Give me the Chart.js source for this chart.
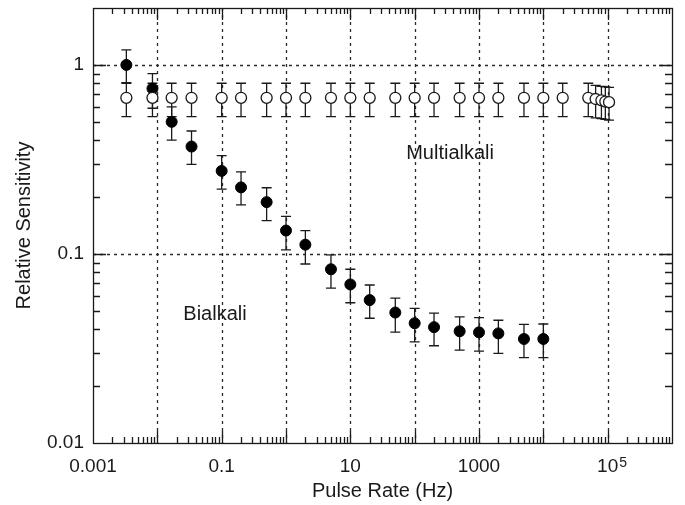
<!DOCTYPE html>
<html>
<head>
<meta charset="utf-8">
<script src="https://cdn.jsdelivr.net/npm/chart.js@4.4.0/dist/chart.umd.min.js"></script>
<style>
  html, body { margin: 0; padding: 0; background: #fff; }
</style>
</head>
<body>
<canvas id="c" width="685" height="505"></canvas>
<script>
// Bialkali (filled points)
const pulseRate = [0.0033, 0.0084, 0.0167, 0.034, 0.1, 0.2, 0.5, 1, 2, 5, 10, 20, 50, 100, 200, 500, 1000, 2000, 5000, 10000];
const bialkali   = [1.0, 0.75, 0.50, 0.37, 0.275, 0.225, 0.188, 0.133, 0.112, 0.083, 0.069, 0.057, 0.049, 0.043, 0.041, 0.039, 0.0385, 0.038, 0.0355, 0.0355];
const bialkaliHi = [1.20, 0.90, 0.60, 0.447, 0.331, 0.272, 0.224, 0.158, 0.133, 0.099, 0.083, 0.0685, 0.0584, 0.0515, 0.0486, 0.0465, 0.046, 0.0446, 0.0424, 0.0426];
const bialkaliLo = [0.806, 0.59, 0.40, 0.298, 0.22, 0.182, 0.150, 0.105, 0.0885, 0.066, 0.0552, 0.0457, 0.0386, 0.0343, 0.0327, 0.031, 0.0306, 0.0298, 0.0283, 0.0283];

// Multialkali (open points)
const multiRate = [0.0033, 0.0084, 0.0167, 0.034, 0.1, 0.2, 0.5, 1, 2, 5, 10, 20, 50, 100, 200, 500, 1000, 2000, 5000, 10000, 20000, 50000, 65000, 80000, 92000, 105000];
const multialkali = [0.67, 0.67, 0.67, 0.67, 0.67, 0.67, 0.67, 0.67, 0.67, 0.67, 0.67, 0.67, 0.67, 0.67, 0.67, 0.67, 0.67, 0.67, 0.67, 0.67, 0.67, 0.67, 0.66, 0.65, 0.64, 0.635];
const multiHi = [0.80, 0.80, 0.80, 0.80, 0.80, 0.80, 0.80, 0.80, 0.80, 0.80, 0.80, 0.80, 0.80, 0.80, 0.80, 0.80, 0.80, 0.80, 0.80, 0.80, 0.80, 0.80, 0.78, 0.77, 0.765, 0.76];
const multiLo = [0.533, 0.533, 0.533, 0.533, 0.533, 0.533, 0.533, 0.533, 0.533, 0.533, 0.533, 0.533, 0.533, 0.533, 0.533, 0.533, 0.533, 0.533, 0.533, 0.533, 0.533, 0.533, 0.525, 0.52, 0.515, 0.51];

// axes
const xTicks = [0.001, 0.1, 10, 1000, 100000];
const xTickLabels = ['0.001', '0.1', '10', '1000', '10'];
const xTickSup = ['', '', '', '', '5'];
const yTicks = [0.01, 0.1, 1];
const yTickLabels = ['0.01', '0.1', '1'];
const xGrid = [0.01, 0.1, 1, 10, 100, 1000, 10000, 100000];
const yGrid = [0.1, 1];

// text labels in the plot
const notes = [
  { text: 'Multialkali', x: 355, y: 0.338 },
  { text: 'Bialkali', x: 0.0787, y: 0.0476 }
];

const FONT = '"Liberation Sans", Arial, Helvetica, sans-serif';
const INK = '#1a1a1a';

function toPoints(xs, ys) {
  return xs.map((x, i) => ({ x: x, y: ys[i] }));
}

function minorValues(min, max) {
  const out = [];
  for (let d = min; d < max; d *= 10) {
    for (let m = 2; m <= 9; m++) {
      const v = d * m;
      if (v < max * 0.999) out.push(v);
    }
  }
  return out;
}

const plotDecor = {
  id: 'plotDecor',
  beforeDatasetsDraw(chart) {
    const { ctx, chartArea: a, scales: { x, y } } = chart;
    ctx.save();
    // dashed grid at decades
    ctx.strokeStyle = '#2a2a2a';
    ctx.lineWidth = 1.3;
    ctx.setLineDash([3, 4]);
    xGrid.forEach(v => {
      const px = Math.round(x.getPixelForValue(v)) + 0.5;
      ctx.beginPath(); ctx.moveTo(px, a.top); ctx.lineTo(px, a.bottom); ctx.stroke();
    });
    yGrid.forEach(v => {
      const py = Math.round(y.getPixelForValue(v)) + 0.5;
      ctx.beginPath(); ctx.moveTo(a.left, py); ctx.lineTo(a.right, py); ctx.stroke();
    });
    ctx.setLineDash([]);

    // error bars
    ctx.strokeStyle = INK;
    ctx.lineWidth = 1.3;
    const bars = (xs, hi, lo) => {
      xs.forEach((v, i) => {
        const px = x.getPixelForValue(v);
        const pt = y.getPixelForValue(hi[i]);
        const pb = y.getPixelForValue(lo[i]);
        ctx.beginPath();
        ctx.moveTo(px, pt); ctx.lineTo(px, pb);
        ctx.moveTo(px - 5, pt); ctx.lineTo(px + 5, pt);
        ctx.moveTo(px - 5, pb); ctx.lineTo(px + 5, pb);
        ctx.stroke();
      });
    };
    bars(pulseRate, bialkaliHi, bialkaliLo);
    bars(multiRate, multiHi, multiLo);
    ctx.restore();
  },
  afterDatasetsDraw(chart) {
    const { ctx, chartArea: a, scales: { x, y } } = chart;
    ctx.save();
    ctx.strokeStyle = INK;
    ctx.lineWidth = 1.3;
    // frame
    ctx.strokeRect(a.left + 0.5, a.top + 0.5, a.right - a.left, a.bottom - a.top);

    // inward ticks, bottom and top
    const tickX = (v, len) => {
      const px = Math.round(x.getPixelForValue(v)) + 0.5;
      ctx.beginPath();
      ctx.moveTo(px, a.bottom); ctx.lineTo(px, a.bottom - len);
      ctx.moveTo(px, a.top); ctx.lineTo(px, a.top + len);
      ctx.stroke();
    };
    minorValues(x.min, x.max).forEach(v => tickX(v, 6));
    xGrid.forEach(v => tickX(v, 12));

    // inward ticks, left and right
    const tickY = (v, len) => {
      const py = Math.round(y.getPixelForValue(v)) + 0.5;
      ctx.beginPath();
      ctx.moveTo(a.left, py); ctx.lineTo(a.left + len, py);
      ctx.moveTo(a.right, py); ctx.lineTo(a.right - len, py);
      ctx.stroke();
    };
    minorValues(y.min, y.max).forEach(v => tickY(v, 7));
    yGrid.forEach(v => tickY(v, 13));

    // superscript exponents on x tick labels
    ctx.fillStyle = INK;
    ctx.textBaseline = 'alphabetic';
    x.ticks.forEach((t, i) => {
      if (!xTickSup[i]) return;
      ctx.font = '19px ' + FONT;
      const w = ctx.measureText(xTickLabels[i]).width;
      const px = x.getPixelForValue(t.value);
      ctx.font = '14px ' + FONT;
      ctx.textAlign = 'left';
      ctx.fillText(xTickSup[i], px + w / 2 + 1, a.bottom + 24);
    });

    // text notes
    ctx.font = '20px ' + FONT;
    ctx.textAlign = 'center';
    ctx.textBaseline = 'middle';
    notes.forEach(n => {
      ctx.fillText(n.text, x.getPixelForValue(n.x), y.getPixelForValue(n.y));
    });
    ctx.restore();
  }
};

new Chart(document.getElementById('c'), {
  type: 'scatter',
  data: {
    datasets: [
      {
        label: 'Multialkali',
        data: toPoints(multiRate, multialkali),
        pointRadius: 5.5,
        pointBackgroundColor: '#fff',
        pointBorderColor: INK,
        pointBorderWidth: 1.3,
        showLine: false
      },
      {
        label: 'Bialkali',
        data: toPoints(pulseRate, bialkali),
        pointRadius: 5.5,
        pointBackgroundColor: '#000',
        pointBorderColor: '#000',
        pointBorderWidth: 1,
        showLine: false
      }
    ]
  },
  options: {
    responsive: false,
    animation: false,
    devicePixelRatio: 1,
    layout: { padding: { left: 0, top: 8, right: 13, bottom: 0 } },
    plugins: { legend: { display: false }, tooltip: { enabled: false } },
    scales: {
      x: {
        type: 'logarithmic',
        min: 0.001,
        max: 1000000,
        grid: { display: false, drawTicks: false },
        border: { display: false },
        afterBuildTicks: s => { s.ticks = xTicks.map(v => ({ value: v })); },
        afterFit: s => {
          s.height = 62;
          s.paddingLeft = 0; s.paddingRight = 0; s.paddingTop = 0; s.paddingBottom = 0;
        },
        ticks: {
          autoSkip: false,
          maxRotation: 0,
          padding: 12,
          color: INK,
          font: { family: FONT, size: 19 },
          callback: (v, i) => xTickLabels[i]
        },
        title: {
          display: true,
          text: 'Pulse Rate (Hz)',
          color: INK,
          font: { family: FONT, size: 20 },
          padding: { top: 0, bottom: 2 }
        }
      },
      y: {
        type: 'logarithmic',
        min: 0.01,
        max: 2,
        grid: { display: false, drawTicks: false },
        border: { display: false },
        afterBuildTicks: s => { s.ticks = yTicks.map(v => ({ value: v })); },
        afterFit: s => {
          s.width = 93;
          s.paddingLeft = 0; s.paddingRight = 0; s.paddingTop = 0; s.paddingBottom = 0;
        },
        ticks: {
          autoSkip: false,
          padding: 9,
          color: INK,
          font: { family: FONT, size: 19 },
          callback: (v, i) => yTickLabels[i]
        },
        title: {
          display: true,
          text: 'Relative Sensitivity',
          color: INK,
          font: { family: FONT, size: 20 },
          padding: { top: 12, bottom: 0 }
        }
      }
    }
  },
  plugins: [plotDecor]
});
</script>
</body>
</html>
